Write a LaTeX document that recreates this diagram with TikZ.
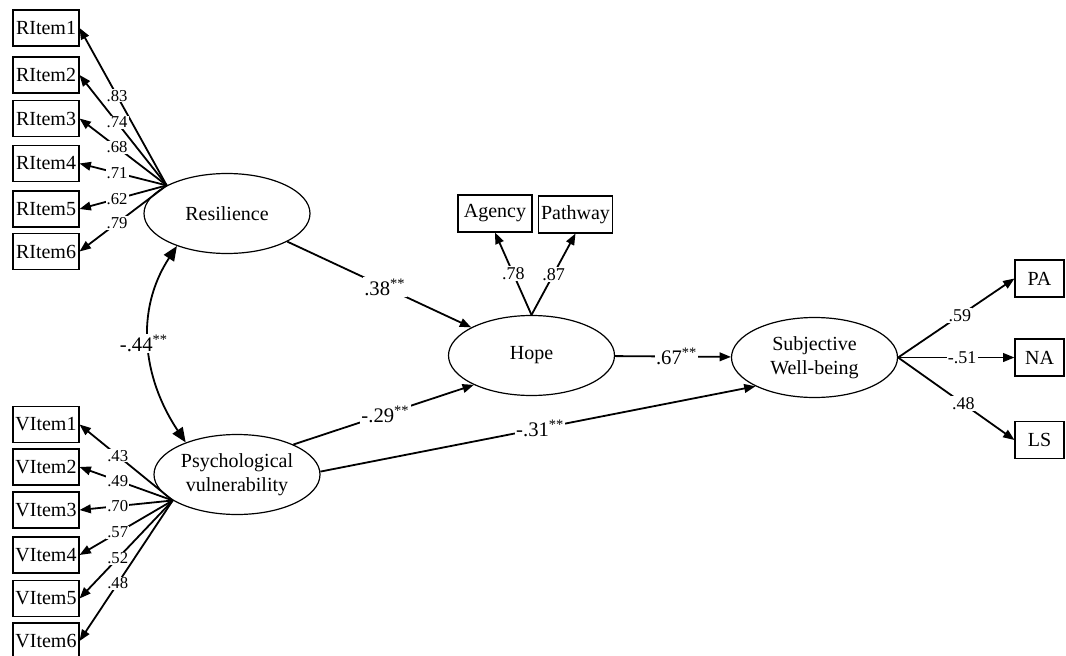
\documentclass[tikz,border=0pt]{standalone}
\usepackage{fontspec}
\setmainfont{Liberation Serif}
\usetikzlibrary{arrows.meta,shapes.geometric}
\begin{document}
\begin{tikzpicture}[x=0.75pt,y=-0.75pt,
  lat/.style={ellipse, draw, line width=0.9pt, minimum width=124.5pt, minimum height=60pt, inner sep=0pt, align=center, font=\fontsize{15}{18}\selectfont},
  obs/.style={rectangle, draw, line width=0.8pt, minimum width=49.5pt, minimum height=27pt, inner sep=0pt, font=\fontsize{15}{18}\selectfont},
  obsw/.style={obs, minimum width=55.5pt, minimum height=27.75pt},
  obsr/.style={obs, minimum width=36.75pt, minimum height=27.75pt},
  conn/.style={line width=1.35pt, -{Triangle[length=8.5pt,width=6.5pt]}},
  corr/.style={line width=1.35pt, {Triangle[length=11pt,width=9pt]}-{Triangle[length=11pt,width=9pt]}},
  coef/.style={fill=white, inner sep=1pt, font=\fontsize{15.5}{18}\selectfont},
  lsm/.style={fill=white, inner sep=0.8pt, font=\fontsize{12.5}{14}\selectfont},
  lmd/.style={fill=white, inner sep=1pt, font=\fontsize{13.5}{15}\selectfont},
]
\useasboundingbox (0,0) rectangle (1066,656);

% latent variables
\node[lat] (res) at (227,213.5) {Resilience};
\node[lat] (pv) at (237,474.5) {Psychological\\vulnerability};
\node[lat] (hope) at (531.5,355.5) {Hope};
\node[lat] (swb) at (814.5,357.5) {Subjective\\Well-being};

% indicators
\node[obs] (ri1) at (46,28) {RItem1};
\node[obs] (ri2) at (46,75) {RItem2};
\node[obs] (ri3) at (46,118.5) {RItem3};
\node[obs] (ri4) at (46,163.5) {RItem4};
\node[obs] (ri5) at (46,209) {RItem5};
\node[obs] (ri6) at (46,251.5) {RItem6};

\node[obs] (vi1) at (46,424.5) {VItem1};
\node[obs] (vi2) at (46,467) {VItem2};
\node[obs] (vi3) at (46,510) {VItem3};
\node[obs] (vi4) at (46,555) {VItem4};
\node[obs] (vi5) at (46,598.5) {VItem5};
\node[obs] (vi6) at (46,641) {VItem6};

\node[obsw] (ag) at (495,213.5) {Agency};
\node[obsw] (pw) at (575.5,214.5) {Pathway};

\node[obsr] (pa) at (1039.5,278.5) {PA};
\node[obsr] (na) at (1039.5,357.5) {NA};
\node[obsr] (ls) at (1039.5,440) {LS};

% loading origins
\coordinate (ro) at (res.155);
\coordinate (vo) at (pv.202);

% resilience loadings
\draw[conn] (ro) -- node[lsm,pos=0.57]{.83} (ri1.east);
\draw[conn] (ro) -- node[lsm,pos=0.57]{.74} (ri2.east);
\draw[conn] (ro) -- node[lsm,pos=0.57]{.68} (ri3.east);
\draw[conn] (ro) -- node[lsm,pos=0.57]{.71} (ri4.east);
\draw[conn] (ro) -- node[lsm,pos=0.57]{.62} (ri5.east);
\draw[conn] (ro) -- node[lsm,pos=0.57]{.79} (ri6.east);

% vulnerability loadings
\draw[conn] (vo) -- node[lsm,pos=0.59]{.43} (vi1.east);
\draw[conn] (vo) -- node[lsm,pos=0.59]{.49} (vi2.east);
\draw[conn] (vo) -- node[lsm,pos=0.59]{.70} (vi3.east);
\draw[conn] (vo) -- node[lsm,pos=0.59]{.57} (vi4.east);
\draw[conn] (vo) -- node[lsm,pos=0.59]{.52} (vi5.east);
\draw[conn] (vo) -- node[lsm,pos=0.59]{.48} (vi6.east);

% hope loadings
\draw[conn] (hope.north) -- node[lmd,pos=0.5]{.78} (ag.south);
\draw[conn] (hope.north) -- node[lmd,pos=0.5]{.87} (pw.south);

% swb loadings
\draw[conn] (swb.east) -- node[lmd,pos=0.53]{.59} (pa.west);
\draw[conn] (swb.east) -- node[lmd,pos=0.55]{-.51} (na.west);
\draw[conn] (swb.east) -- node[lmd,pos=0.56]{.48} (ls.west);

% structural paths
\draw[conn] (res) -- node[coef,pos=0.53]{.38\textsuperscript{**}} (hope);
\draw[conn] (pv.28) -- node[coef,pos=0.51]{-.29\textsuperscript{**}} (hope.207);
\draw[conn] (pv.2) -- node[coef,pos=0.505]{-.31\textsuperscript{**}} (swb.206);
\draw[conn] (hope) -- node[coef,pos=0.53]{.67\textsuperscript{**}} (swb);

% correlation
\draw[corr] (res.213) .. controls (135,310) and (142,377) .. node[coef,pos=0.5,xshift=-4pt]{-.44\textsuperscript{**}} (pv.148);
\end{tikzpicture}
\end{document}
